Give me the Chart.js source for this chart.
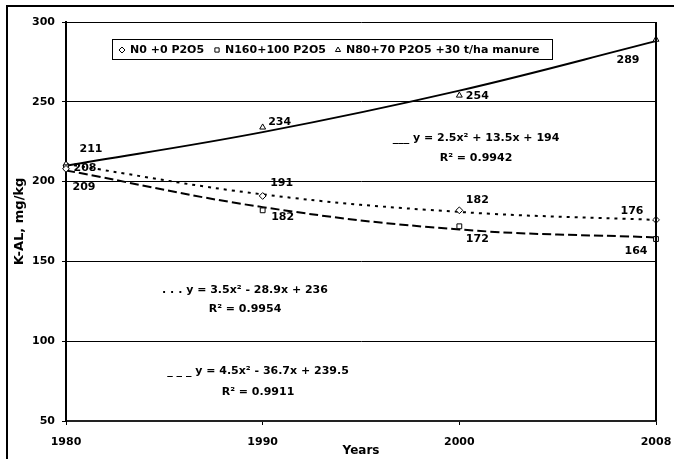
<!DOCTYPE html>
<html>
<head>
<meta charset="utf-8">
<script src="https://cdn.jsdelivr.net/npm/chart.js@4.4.1/dist/chart.umd.min.js"></script>
<style>
  body { margin: 0; background: #fff; }
  #wrap { width: 674px; height: 459px; }
</style>
</head>
<body>
<div id="wrap"><canvas id="grafico" width="674" height="459"></canvas></div>
<script>
// Dados
const years = ['1980', '1990', '2000', '2008'];
const serieN0 = [208, 191, 182, 176];
const serieN160 = [209, 182, 172, 164];
const serieN80 = [211, 234, 254, 289];

// Linhas de tendencia (valores estimados da figura)
const trendN0 = [211, 192, 181, 176];
const trendN160 = [207, 184, 170, 165];
const trendN80 = [210, 231, 257, 288];

const yTicks = [50, 100, 150, 200, 250, 300];

const seriesNames = ['N0 +0 P2O5', 'N160+100 P2O5', 'N80+70 P2O5 +30 t/ha manure'];
const equations = [
    ['___ y = 2.5x\u00B2 + 13.5x + 194', 'R\u00B2 = 0.9942'],
    ['. . . y = 3.5x\u00B2 - 28.9x + 236', 'R\u00B2 = 0.9954'],
    ['_ _ _ y = 4.5x\u00B2 - 36.7x + 239.5', 'R\u00B2 = 0.9911']
];

// deslocamento dos rotulos de dados (px) em relacao ao ponto
const labelOffsets = [
    [[19, -1], [19, -13], [18, -10], [-24, -9]],
    [[18, 20], [20, 7], [18, 13], [-20, 12]],
    [[25, -15], [17, -5], [18, 1], [-28, 21]]
];

const FONT = 'bold 11px "DejaVu Sans"';

Chart.defaults.font.family = '"DejaVu Sans"';
Chart.defaults.font.weight = 'bold';
Chart.defaults.font.size = 11;
Chart.defaults.color = '#000';

const markerStyle = (data, style) => ({
    data: data,
    showLine: false,
    pointStyle: style,
    pointRadius: 3.4,
    pointBackgroundColor: '#fff',
    pointBorderColor: '#000',
    pointBorderWidth: 1
});

const trendStyle = (data, dash) => ({
    data: data,
    borderColor: '#000',
    borderWidth: 2,
    borderDash: dash,
    pointRadius: 0,
    tension: 0.4,
    fill: false
});

const extras = {
    id: 'extras',
    beforeDraw: (chart) => {
        const ctx = chart.ctx;
        ctx.save();
        ctx.fillStyle = '#fff';
        ctx.fillRect(0, 0, chart.width, chart.height);
        ctx.strokeStyle = '#000';
        ctx.lineWidth = 2;
        ctx.strokeRect(7, 6, chart.width + 20, chart.height + 20);
        ctx.restore();
    },
    afterDatasetsDraw: (chart) => {
        const ctx = chart.ctx;
        const a = chart.chartArea;
        ctx.save();
        // borda direita da area do grafico
        ctx.strokeStyle = '#000';
        ctx.lineWidth = 2;
        ctx.beginPath();
        ctx.moveTo(a.right, a.top);
        ctx.lineTo(a.right, a.bottom);
        ctx.stroke();

        ctx.font = FONT;
        ctx.fillStyle = '#000';
        ctx.textAlign = 'center';
        ctx.textBaseline = 'middle';

        // rotulos de dados
        [0, 1, 2].forEach((i) => {
            const meta = chart.getDatasetMeta(i);
            const vals = chart.data.datasets[i].data;
            meta.data.forEach((pt, j) => {
                const off = labelOffsets[i][j];
                ctx.fillText(String(vals[j]), pt.x + off[0], pt.y + off[1]);
            });
        });

        // equacoes
        const eqPos = [[476, 138, 158], [245, 290, 309], [258, 371, 392]];
        equations.forEach((eq, i) => {
            ctx.fillText(eq[0], eqPos[i][0], eqPos[i][1]);
            ctx.fillText(eq[1], eqPos[i][0], eqPos[i][2]);
        });

        // legenda
        ctx.fillStyle = '#fff';
        ctx.fillRect(112, 39, 440, 20);
        ctx.lineWidth = 1;
        ctx.strokeRect(112.5, 39.5, 440, 20);
        const items = [[122, 'rectRot'], [217, 'rect'], [338, 'triangle']];
        items.forEach((it, i) => {
            ctx.fillStyle = '#fff';
            ctx.strokeStyle = '#000';
            ctx.lineWidth = 1;
            Chart.helpers.drawPoint(ctx, { pointStyle: it[1], radius: 3, borderWidth: 1 }, it[0], 50);
            ctx.fillStyle = '#000';
            ctx.textAlign = 'left';
            ctx.fillText(seriesNames[i], it[0] + 8, 50);
        });
        ctx.restore();
    }
};

const data = {
    labels: years,
    datasets: [
        markerStyle(serieN0, 'rectRot'),
        markerStyle(serieN160, 'rect'),
        markerStyle(serieN80, 'triangle'),
        trendStyle(trendN0, [3, 5]),
        trendStyle(trendN160, [9, 4]),
        trendStyle(trendN80, [])
    ]
};

const config = {
    type: 'line',
    data,
    plugins: [extras],
    options: {
        responsive: false,
        animation: false,
        layout: { padding: { top: 22, right: 18, left: 0, bottom: 0 } },
        plugins: { legend: { display: false }, tooltip: { enabled: false } },
        scales: {
            x: {
                type: 'category',
                offset: false,
                grid: { drawOnChartArea: false, color: '#000', tickLength: 4 },
                border: { color: '#222', width: 2 },
                ticks: { padding: 11, maxRotation: 0, font: { size: 11 } },
                title: { display: true, text: 'Years', font: { size: 12 }, padding: { top: 0, bottom: 1 } },
                afterFit: (scale) => {
                    scale.height = 38;
                    scale.paddingLeft = 0;
                    scale.paddingRight = 0;
                }
            },
            y: {
                min: 50,
                max: 300,
                afterBuildTicks: (scale) => { scale.ticks = yTicks.map(v => ({ value: v })); },
                grid: { color: '#000', lineWidth: 1, tickLength: 4 },
                border: { color: '#000', width: 2 },
                ticks: { padding: 7, font: { size: 11 } },
                title: { display: true, text: 'K-AL, mg/kg', font: { size: 13 }, padding: { top: 12, bottom: 0 } },
                afterFit: (scale) => {
                    scale.width = 66;
                    scale.paddingTop = 0;
                    scale.paddingBottom = 0;
                }
            }
        }
    }
};

new Chart(document.getElementById('grafico'), config);
</script>
</body>
</html>
